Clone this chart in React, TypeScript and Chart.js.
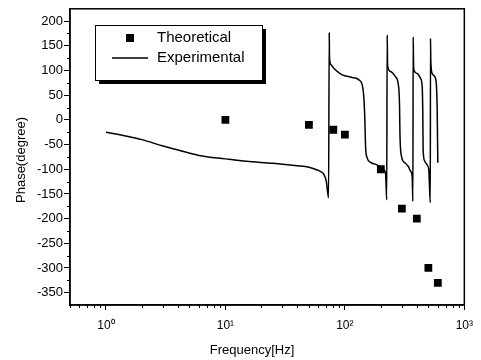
import React, { useEffect, useRef } from "react";
import { Chart, registerables } from "chart.js";

Chart.register(...registerables);

// ---- Data ----
const theoreticalFreq = [10, 50, 80, 100, 200, 300, 400, 500, 600];
const theoreticalPhase = [0, -10, -20, -30, -100, -180, -200, -300, -330];

const experimentalFreq = [
  1, 1.5, 2, 3, 4, 6, 10, 15, 25, 40, 50, 58, 63, 67, 70, 73,
  74, 74.3, 76, 83.6, 95, 115, 131, 139.6, 144, 147, 149, 153.7, 164, 186, 205, 219, 224,
  226, 228, 241, 266, 279, 287, 289, 298, 318, 339, 355, 366, 371,
  373, 375, 378, 403, 430, 444, 449, 452, 467, 488, 504, 519,
  521, 524, 538, 574, 585, 592, 600,
];
const experimentalPhase = [
  -25, -33, -40, -53, -61, -72, -79, -84, -88, -93, -96, -101, -105, -111, -125, -158,
  176, 130, 113, 101, 91, 86, 81, 71, 47, 0, -54, -77, -86, -91, -98, -108, -162,
  172, 110, 98, 87, 74, 27, -26, -74, -87, -94, -104, -115, -165,
  168, 125, 101, 94, 84, 67, 14, -61, -84, -91, -101, -168,
  165, 120, 94, 84, 67, 27, -87,
];

const xMajorTicks = [1, 10, 100, 1000];
const xTickLabels = ["10\u2070", "10\u00B9", "10\u00B2", "10\u00B3"];
const xMinorTicks = [
  0.5, 0.6, 0.7, 0.8, 0.9,
  2, 3, 4, 5, 6, 7, 8, 9,
  20, 30, 40, 50, 60, 70, 80, 90,
  200, 300, 400, 500, 600, 700, 800, 900,
];
const yTicks = [-350, -300, -250, -200, -150, -100, -50, 0, 50, 100, 150, 200];
const yMinorTicks = [-325, -275, -225, -175, -125, -75, -25, 25, 75, 125, 175];

const seriesNames = ["Theoretical", "Experimental"];
const xTitle = "Frequency[Hz]";
const yTitle = "Phase(degree)";

const FONT = '"Liberation Sans", Arial, sans-serif';

const decorPlugin = {
  id: "decor",
  afterDraw(chart: any) {
    const { ctx, chartArea } = chart;
    const xs = chart.scales.x;
    const ys = chart.scales.y;
    ctx.save();
    ctx.strokeStyle = "#000";
    ctx.lineWidth = 1.5;
    ctx.strokeRect(chartArea.left, chartArea.top, chartArea.right - chartArea.left, chartArea.bottom - chartArea.top);

    // minor ticks
    ctx.lineWidth = 1;
    ctx.beginPath();
    xMinorTicks.forEach((v) => {
      const px = Math.round(xs.getPixelForValue(v)) + 0.5;
      ctx.moveTo(px, chartArea.bottom);
      ctx.lineTo(px, chartArea.bottom + 3);
    });
    yMinorTicks.forEach((v) => {
      const py = Math.round(ys.getPixelForValue(v)) + 0.5;
      ctx.moveTo(chartArea.left - 3, py);
      ctx.lineTo(chartArea.left, py);
    });
    ctx.stroke();

    // axis titles
    ctx.fillStyle = "#000";
    ctx.font = `13px ${FONT}`;
    ctx.textAlign = "center";
    ctx.textBaseline = "middle";
    ctx.fillText(xTitle, 252, 350);
    ctx.save();
    ctx.translate(21, 160);
    ctx.rotate(-Math.PI / 2);
    ctx.fillText(yTitle, 0, 0);
    ctx.restore();

    // legend box
    const bx = 95, by = 25, bw = 167, bh = 55;
    ctx.fillStyle = "#000";
    ctx.fillRect(bx + 4, by + 4, bw, bh);
    ctx.fillStyle = "#fff";
    ctx.fillRect(bx, by, bw, bh);
    ctx.strokeStyle = "#000";
    ctx.lineWidth = 1;
    ctx.strokeRect(bx + 0.5, by + 0.5, bw, bh);
    ctx.fillStyle = "#000";
    ctx.fillRect(126, 34, 8, 8);
    ctx.lineWidth = 1.5;
    ctx.beginPath();
    ctx.moveTo(112, 58);
    ctx.lineTo(148, 58);
    ctx.stroke();
    ctx.font = `15px ${FONT}`;
    ctx.textAlign = "left";
    ctx.fillText(seriesNames[0], 157, 38);
    ctx.fillText(seriesNames[1], 157, 58);
    ctx.restore();
  },
};

export default function App() {
  const ref = useRef<HTMLCanvasElement>(null);
  useEffect(() => {
    document.body.style.margin = "0";
    const canvas = ref.current!;
    const chart = new Chart(canvas, {
      type: "scatter",
      data: {
        datasets: [
          {
            label: seriesNames[0],
            data: theoreticalFreq.map((x, i) => ({ x, y: theoreticalPhase[i] })),
            pointStyle: "rect",
            pointRadius: 5.5,
            backgroundColor: "#000",
            borderColor: "#000",
            borderWidth: 0,
            showLine: false,
          },
          {
            label: seriesNames[1],
            data: experimentalFreq.map((x, i) => ({ x, y: experimentalPhase[i] })),
            showLine: true,
            pointRadius: 0,
            borderColor: "#000",
            borderWidth: 1.5,
            tension: 0,
            cubicInterpolationMode: "monotone",
          } as any,
        ],
      },
      options: {
        responsive: false,
        animation: false,
        layout: { padding: { top: 8, right: 15, left: 0, bottom: 0 } },
        plugins: { legend: { display: false }, tooltip: { enabled: false } },
        scales: {
          x: {
            type: "logarithmic",
            position: "bottom",
            min: 0.5,
            max: 1000,
            afterBuildTicks: (scale: any) => {
              scale.ticks = xMajorTicks.map((v) => ({ value: v, major: true }));
            },
            afterFit: (scale: any) => {
              scale.height = 55;
            },
            ticks: {
              autoSkip: false,
              maxRotation: 0,
              padding: 8,
              color: "#000",
              font: { family: FONT, size: 12 },
              callback: (v: any) => {
                const i = xMajorTicks.indexOf(Number(v));
                return i >= 0 ? xTickLabels[i] : "";
              },
            },
            grid: { drawOnChartArea: false, drawTicks: true, tickLength: 5, tickColor: "#000", tickWidth: 1 },
            border: { display: true, color: "#000", width: 1.5 },
          },
          y: {
            type: "linear",
            min: -375,
            max: 225,
            afterBuildTicks: (scale: any) => {
              scale.ticks = yTicks.map((v) => ({ value: v }));
            },
            afterFit: (scale: any) => {
              scale.width = 70;
            },
            ticks: {
              padding: 1,
              color: "#000",
              font: { family: FONT, size: 13 },
              callback: (v: any) => String(v),
            },
            grid: { drawOnChartArea: false, drawTicks: true, tickLength: 6, tickColor: "#000", tickWidth: 1 },
            border: { display: true, color: "#000", width: 1.5 },
          },
        },
      },
      plugins: [decorPlugin],
    });
    return () => chart.destroy();
  }, []);
  return (
    <div style={{ position: "absolute", left: 0, top: 0, width: 481, height: 360, background: "#fff" }}>
      <canvas ref={ref} width={481} height={360} style={{ display: "block" }} />
    </div>
  );
}
